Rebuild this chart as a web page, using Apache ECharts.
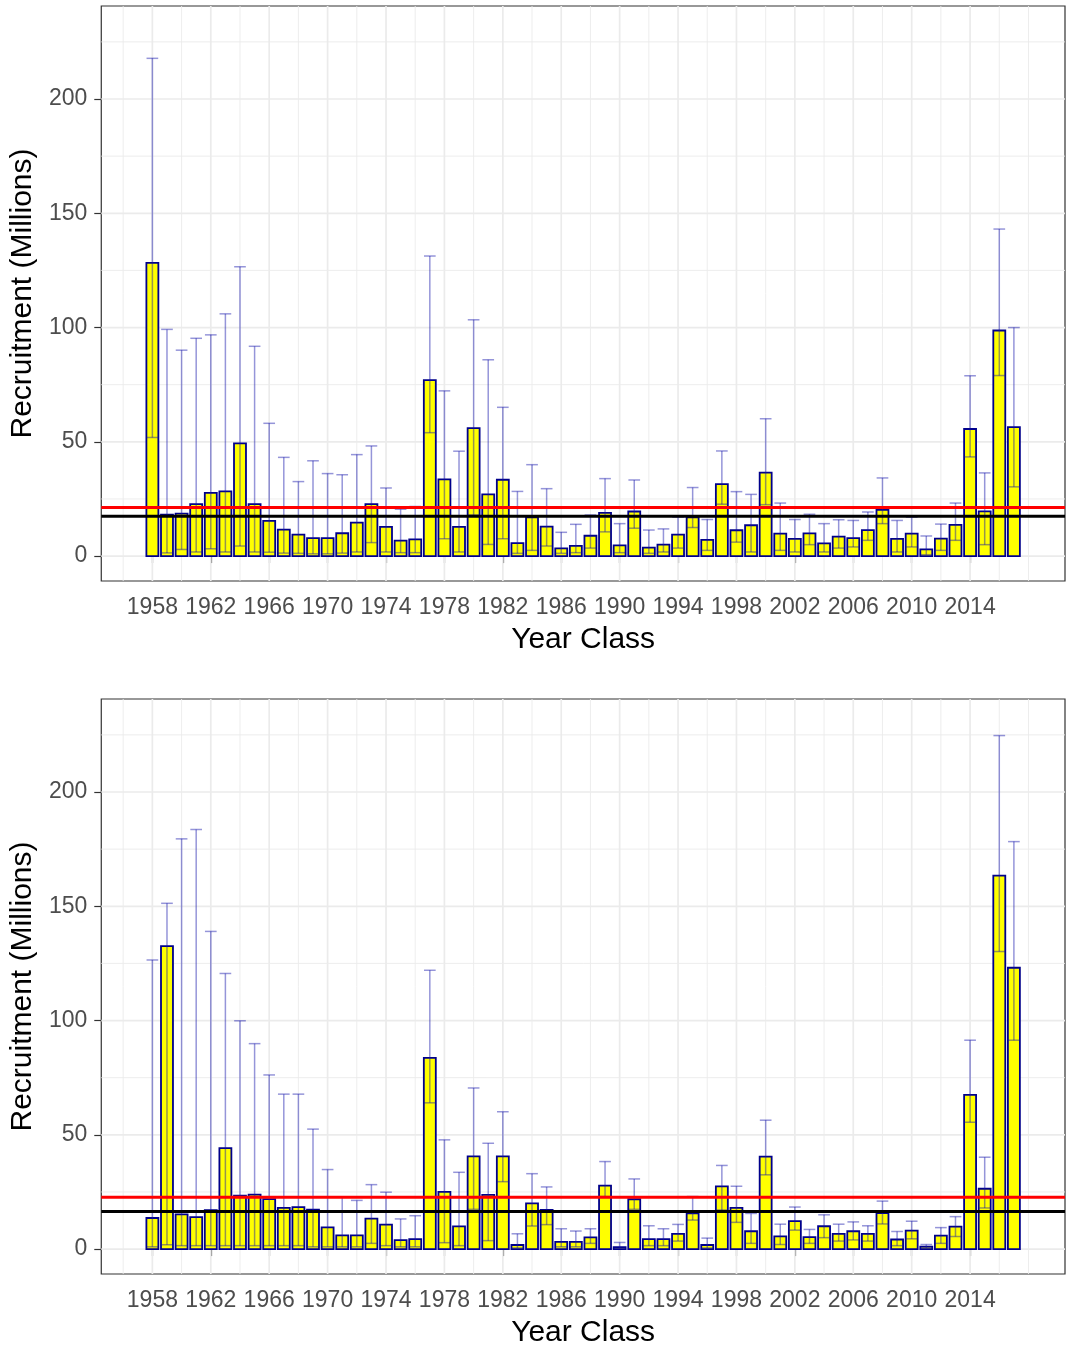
<!DOCTYPE html>
<html><head><meta charset="utf-8">
<script src="https://cdn.jsdelivr.net/npm/echarts@6/dist/echarts.min.js"></script>
<style>html,body{margin:0;padding:0;background:#fff}#c{width:1069px;height:1352px}</style>
</head><body><div id="c"></div><script>
const years = [1958,1959,1960,1961,1962,1963,1964,1965,1966,1967,1968,1969,1970,1971,1972,1973,1974,1975,1976,1977,
1978,1979,1980,1981,1982,1983,1984,1985,1986,1987,1988,1989,1990,1991,1992,1993,1994,1995,1996,1997,
1998,1999,2000,2001,2002,2003,2004,2005,2006,2007,2008,2009,2010,2011,2012,2013,2014,2015,2016,2017];

const topValues = [128.3,18.1,18.6,22.7,27.7,28.3,49.3,22.7,15.4,11.6,9.4,7.9,7.9,10.0,14.6,22.7,12.8,6.8,7.3,77.0,
33.6,12.8,56.0,27.0,33.4,5.7,16.9,12.9,3.4,4.5,8.9,18.9,4.7,19.5,3.7,5.0,9.4,16.9,7.1,31.5,
11.3,13.5,36.5,9.8,7.5,9.9,5.6,8.5,7.9,11.4,20.2,7.5,9.8,2.9,7.6,13.7,55.6,19.6,98.7,56.4];
const topLower = [51.9,1.4,2.9,1.8,3.2,1.8,4.4,1.8,1.7,1.3,1.2,1.0,1.0,1.3,1.8,5.9,1.8,1.5,1.5,54.0,
7.6,1.8,18.0,5.1,7.6,1.2,2.5,4.4,1.2,1.5,3.5,10.6,1.5,12.2,1.2,1.8,3.5,12.5,2.5,22.7,
6.1,1.8,22.5,2.5,1.8,5.0,1.8,3.5,4.0,6.9,14.2,1.8,4.0,0.6,2.5,6.9,43.4,5.0,79.0,30.3];
const topUpper = [217.8,99.2,90.1,95.3,96.8,106.0,126.6,91.8,58.1,43.2,32.6,41.7,36.1,35.6,44.4,48.2,29.8,20.5,21.7,131.3,
72.3,45.9,103.4,85.9,65.1,28.3,40.0,29.5,10.4,13.9,18.0,33.9,14.2,33.3,11.4,11.9,17.0,30.0,16.0,46.0,
28.2,27.0,60.1,23.2,16.0,18.3,14.2,15.9,15.6,19.3,34.2,15.6,17.0,8.8,14.0,23.2,78.9,36.4,143.1,100.0];

const bottomValues = [13.6,132.6,15.2,14.0,17.0,44.2,23.4,23.8,21.9,18.0,18.4,17.3,9.5,6.0,6.0,13.3,10.7,3.9,4.4,83.7,
25.0,9.9,40.6,23.7,40.6,1.8,20.0,17.1,3.2,3.2,5.1,27.8,0.9,21.8,4.4,4.4,6.7,15.6,1.8,27.4,
18.0,7.8,40.5,5.6,12.2,5.2,10.0,6.7,7.8,6.7,15.8,4.2,8.1,1.1,5.9,9.8,67.5,26.4,163.4,123.1];
const bottomLower = [1.0,1.9,1.5,1.5,1.5,1.5,1.5,1.5,1.5,1.5,1.5,1.0,1.0,1.0,1.0,2.5,1.5,1.0,1.0,64.0,
2.8,1.5,17.4,3.7,29.5,0.5,10.1,10.7,1.0,1.0,2.5,23.0,0.3,17.4,1.5,1.5,3.5,12.7,0.5,17.1,
11.7,2.5,32.5,2.0,8.3,2.5,5.0,3.5,4.0,3.5,11.0,1.5,4.5,0.5,2.5,5.5,55.5,18.0,130.2,91.4];
const bottomUpper = [126.5,151.3,179.5,183.6,139.0,120.6,99.9,89.9,76.2,67.8,67.8,52.5,34.8,22.8,21.3,28.2,24.9,13.2,14.6,122.0,
47.8,33.6,70.5,46.3,60.1,6.7,33.0,27.2,8.9,7.9,8.9,38.3,2.9,30.7,10.2,8.9,10.8,23.0,4.8,36.6,
27.5,15.6,56.4,10.9,18.4,8.6,15.0,10.9,11.9,10.2,21.0,7.7,12.2,2.0,9.4,14.2,91.4,40.2,224.7,178.3];

const refRed = [21.3, 22.7];     // top, bottom
const refBlack = [17.4, 16.5];   // top, bottom

const xTickLabels = [1958,1962,1966,1970,1974,1978,1982,1986,1990,1994,1998,2002,2006,2010,2014];
const xMinorGrid = [1956,1960,1964,1968,1972,1976,1980,1984,1988,1992,1996,2000,2004,2008,2012,2016,2018];
const yTickLabels = [0,50,100,150,200];
const yMinorGrid = [25,75,125,175,225];

const X_MIN = 1954.5, X_MAX = 2020.5, Y_MIN = -10.9, Y_MAX = 240.7;
const BAR_HALF = 0.41, CAP_HALF = 0.4;
const FONT = '"Liberation Sans", Arial, sans-serif';

function vLine(color, width) {
  return function (p, api) {
    const x = api.value(0);
    const a = api.coord([x, Y_MIN]), b = api.coord([x, Y_MAX]);
    return {type: 'line', shape: {x1: a[0], y1: a[1], x2: b[0], y2: b[1]}, style: {stroke: color, lineWidth: width}};
  };
}
function hLine(color, width) {
  return function (p, api) {
    const y = api.value(1);
    const a = api.coord([X_MIN, y]), b = api.coord([X_MAX, y]);
    return {type: 'line', shape: {x1: a[0], y1: a[1], x2: b[0], y2: b[1]}, style: {stroke: color, lineWidth: width}};
  };
}
function barItem(p, api) {
  const x = api.value(0), v = api.value(1);
  const a = api.coord([x - BAR_HALF, v]), b = api.coord([x + BAR_HALF, 0]);
  return {type: 'rect', shape: {x: a[0], y: a[1], width: b[0] - a[0], height: b[1] - a[1]},
          style: {fill: '#ffff00', stroke: '#00008b', lineWidth: 1.8}};
}
function errItem(p, api) {
  const x = api.value(0), lo = api.value(1), hi = api.value(2);
  const t = api.coord([x, hi]), bt = api.coord([x, lo]);
  const l = api.coord([x - CAP_HALF, hi])[0], r = api.coord([x + CAP_HALF, hi])[0];
  const st = {stroke: 'rgba(20,20,170,0.45)', lineWidth: 1.5};
  return {type: 'group', children: [
    {type: 'line', shape: {x1: t[0], y1: t[1], x2: bt[0], y2: bt[1]}, style: st},
    {type: 'line', shape: {x1: l, y1: t[1], x2: r, y2: t[1]}, style: st},
    {type: 'line', shape: {x1: l, y1: bt[1], x2: r, y2: bt[1]}, style: st}
  ]};
}

function xAxisFor(i) {
  return {
    gridIndex: i, type: 'value', min: X_MIN, max: X_MAX,
    axisLine: {show: false}, splitLine: {show: false},
    axisTick: {show: true, customValues: xTickLabels, length: 7, lineStyle: {color: '#333', width: 1.2}},
    axisLabel: {customValues: xTickLabels, margin: 15, fontSize: 23, color: '#4d4d4d', fontFamily: FONT,
                formatter: v => String(v)},
    name: 'Year Class', nameLocation: 'middle', nameGap: 44,
    nameTextStyle: {fontSize: 30, color: '#000', fontFamily: FONT}
  };
}
function yAxisFor(i) {
  return {
    gridIndex: i, type: 'value', min: Y_MIN, max: Y_MAX,
    axisLine: {show: false}, splitLine: {show: false},
    axisTick: {show: true, customValues: yTickLabels, length: 7, lineStyle: {color: '#333', width: 1.2}},
    axisLabel: {customValues: yTickLabels, margin: 14, fontSize: 23, color: '#4d4d4d', fontFamily: FONT,
                formatter: v => String(v)},
    name: 'Recruitment (Millions)', nameLocation: 'middle', nameGap: 59,
    nameTextStyle: {fontSize: 30, color: '#000', fontFamily: FONT}
  };
}

function panelSeries(i, vals, lo, hi) {
  const s = [];
  s.push({type: 'custom', xAxisIndex: i, yAxisIndex: i, z: 1, silent: true, renderItem: vLine('#ebebeb', 0.9),
          data: xMinorGrid.map(x => [x, 0]), encode: {x: 0, y: 1}});
  s.push({type: 'custom', xAxisIndex: i, yAxisIndex: i, z: 1, silent: true, renderItem: vLine('#ebebeb', 1.7),
          data: xTickLabels.map(x => [x, 0]), encode: {x: 0, y: 1}});
  s.push({type: 'custom', xAxisIndex: i, yAxisIndex: i, z: 1, silent: true, renderItem: hLine('#ebebeb', 0.9),
          data: yMinorGrid.map(y => [1990, y]), encode: {x: 0, y: 1}});
  s.push({type: 'custom', xAxisIndex: i, yAxisIndex: i, z: 1, silent: true, renderItem: hLine('#ebebeb', 1.7),
          data: yTickLabels.map(y => [1990, y]), encode: {x: 0, y: 1}});
  s.push({type: 'custom', xAxisIndex: i, yAxisIndex: i, z: 2, renderItem: barItem,
          data: years.map((y, k) => [y, vals[k]]), encode: {x: 0, y: 1}});
  s.push({type: 'custom', xAxisIndex: i, yAxisIndex: i, z: 3, renderItem: errItem,
          data: years.map((y, k) => [y, lo[k], hi[k]]), encode: {x: 0, y: [1, 2]}});
  s.push({type: 'custom', xAxisIndex: i, yAxisIndex: i, z: 4, silent: true, renderItem: hLine('#ff0000', 3),
          data: [[1990, refRed[i]]], encode: {x: 0, y: 1}});
  s.push({type: 'custom', xAxisIndex: i, yAxisIndex: i, z: 4, silent: true, renderItem: hLine('#000000', 3),
          data: [[1990, refBlack[i]]], encode: {x: 0, y: 1}});
  return s;
}

const chart = echarts.init(document.getElementById('c'), null, {renderer: 'canvas'});
chart.setOption({
  animation: false,
  backgroundColor: '#ffffff',
  grid: [
    {left: 101, top: 6, width: 964, height: 575, show: true, borderColor: '#333', borderWidth: 1.2, backgroundColor: '#fff'},
    {left: 101, top: 699, width: 964, height: 575, show: true, borderColor: '#333', borderWidth: 1.2, backgroundColor: '#fff'}
  ],
  xAxis: [xAxisFor(0), xAxisFor(1)],
  yAxis: [yAxisFor(0), yAxisFor(1)],
  series: [].concat(panelSeries(0, topValues, topLower, topUpper), panelSeries(1, bottomValues, bottomLower, bottomUpper))
});
</script></body></html>
